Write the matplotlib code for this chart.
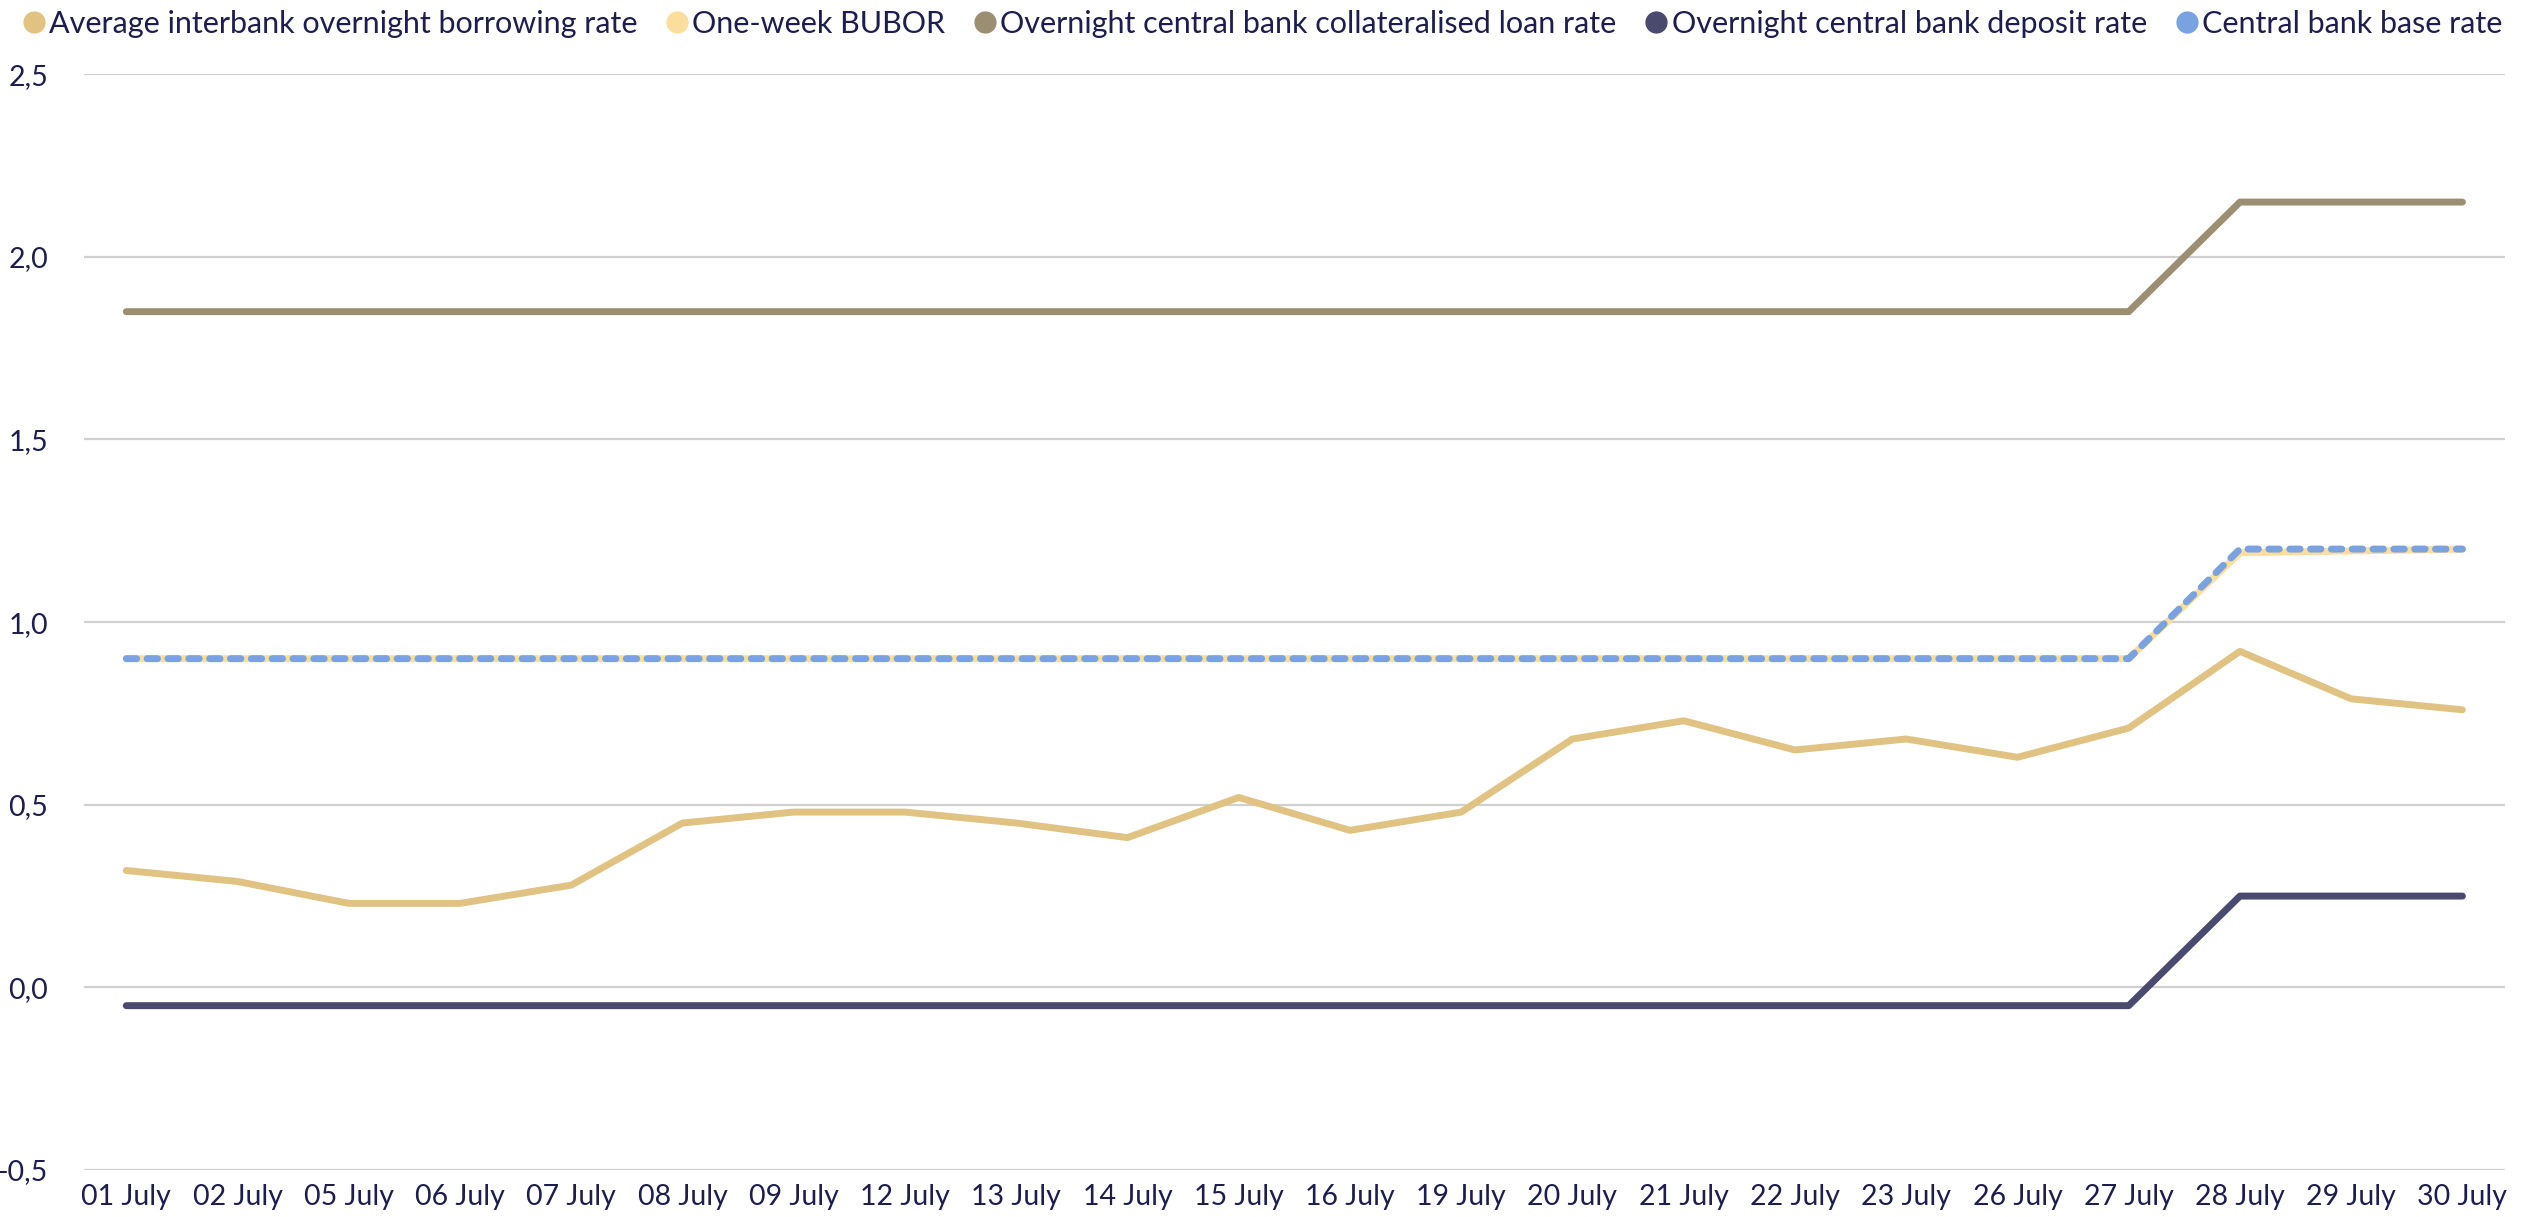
import matplotlib.pyplot as plt
from matplotlib.lines import Line2D
from matplotlib.ticker import FuncFormatter

# data
dates = ["01 July", "02 July", "05 July", "06 July", "07 July", "08 July", "09 July",
         "12 July", "13 July", "14 July", "15 July", "16 July", "19 July", "20 July",
         "21 July", "22 July", "23 July", "26 July", "27 July", "28 July", "29 July", "30 July"]
avg_overnight = [0.32, 0.29, 0.23, 0.23, 0.28, 0.45, 0.48, 0.48, 0.45, 0.41, 0.52,
                 0.43, 0.48, 0.68, 0.73, 0.65, 0.68, 0.63, 0.71, 0.92, 0.79, 0.76]
bubor_1w = [0.90] * 19 + [1.19, 1.195, 1.20]
collateral_rate = [1.85] * 19 + [2.15, 2.15, 2.15]
deposit_rate = [-0.05] * 19 + [0.25, 0.25, 0.25]
base_rate = [0.90] * 19 + [1.20, 1.20, 1.20]

labels = ["Average interbank overnight borrowing rate", "One-week BUBOR",
          "Overnight central bank collateralised loan rate",
          "Overnight central bank deposit rate", "Central bank base rate"]
colors = ["#E0C283", "#FCDE9C", "#9C8E73", "#4A4A6F", "#7AA2E1"]
text_col = "#1E1E4E"

plt.rcParams['font.family'] = ['Lato', 'DejaVu Sans']

fig = plt.figure(figsize=(25.3, 12.17), dpi=100)
ax = fig.add_axes([0.0332, 0.0386, 0.9568, 0.9004])

x = list(range(len(dates)))
lw = 5
ax.plot(x, avg_overnight, color=colors[0], lw=lw, solid_capstyle='round', zorder=3)
ax.plot(x, bubor_1w, color=colors[1], lw=lw, solid_capstyle='round', zorder=3)
ax.plot(x, collateral_rate, color=colors[2], lw=lw, solid_capstyle='round', zorder=3)
ax.plot(x, deposit_rate, color=colors[3], lw=lw, solid_capstyle='round', zorder=3)
ax.plot(x, base_rate, color=colors[4], lw=lw, dashes=(1.5, 1.5),
        dash_capstyle='round', zorder=4)

ax.set_xlim(-0.38, len(dates) - 1 + 0.38)
ax.set_ylim(-0.5, 2.5)
ax.set_yticks([-0.5, 0, 0.5, 1.0, 1.5, 2.0, 2.5])
ax.yaxis.set_major_formatter(FuncFormatter(lambda v, p: f"{v:.1f}".replace(".", ",")))
ax.set_xticks(x)
ax.set_xticklabels(dates)
ax.tick_params(axis='both', length=0, labelsize=20.5, colors=text_col)
ax.tick_params(axis='y', pad=26)
ax.tick_params(axis='x', pad=10)
ax.grid(axis='y', color='#D0D0D0', lw=1.6)
ax.set_axisbelow(True)
for s in ax.spines.values():
    s.set_visible(False)

# legend with round markers
handles = [Line2D([], [], ls='none', marker='o', markersize=15, color=c) for c in colors]
fig.legend(handles, labels, loc='upper left', bbox_to_anchor=(0.0, 1.007), ncol=5,
           frameon=False, fontsize=22, labelcolor=text_col, handletextpad=0.0,
           columnspacing=0.8, handlelength=1.0, borderaxespad=0.2)

fig.savefig("out.png", dpi=100)
